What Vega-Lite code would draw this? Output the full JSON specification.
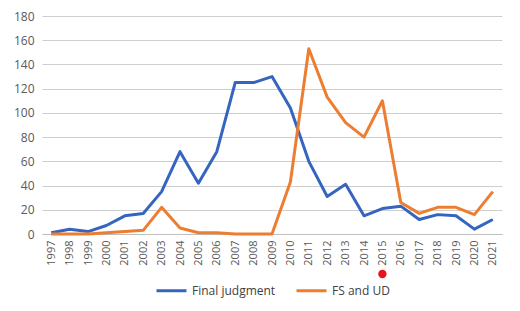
{
  "$schema": "https://vega.github.io/schema/vega-lite/v6.json",
  "width": 460,
  "height": 218,
  "autosize": {"type": "none"},
  "padding": {"left": 42, "top": 16, "right": 18, "bottom": 77},
  "background": "white",
  "config": {
    "view": {"stroke": null},
    "font": "Open Sans",
    "axis": {"labelColor": "#595959", "labelFont": "Open Sans", "labelFontSize": 11, "title": null, "labelOverlap": false},
    "legend": {"layout": {"bottom": {"anchor": "middle"}}}
  },
  "encoding": {
    "x": {
      "field": "year", "type": "ordinal",
      "scale": {"type": "point", "padding": 0.5},
      "axis": {"labelAngle": -90, "ticks": false, "domainColor": "#bfbfbf", "domainWidth": 1, "labelPadding": 6, "grid": false}
    },
    "y": {
      "field": "value", "type": "quantitative",
      "scale": {"domain": [0, 180], "nice": false},
      "axis": {"values": [0, 20, 40, 60, 80, 100, 120, 140, 160, 180], "domain": false, "ticks": false, "grid": true, "gridColor": "#cfcfcf", "gridWidth": 1, "labelPadding": 8, "labelFontSize": 12}
    }
  },
  "layer": [
    {
      "data": {
        "values": [
          {"year": "1997", "series": "Final judgment", "value": 1},
          {"year": "1998", "series": "Final judgment", "value": 4},
          {"year": "1999", "series": "Final judgment", "value": 2},
          {"year": "2000", "series": "Final judgment", "value": 7},
          {"year": "2001", "series": "Final judgment", "value": 15},
          {"year": "2002", "series": "Final judgment", "value": 17},
          {"year": "2003", "series": "Final judgment", "value": 35},
          {"year": "2004", "series": "Final judgment", "value": 68},
          {"year": "2005", "series": "Final judgment", "value": 42},
          {"year": "2006", "series": "Final judgment", "value": 68},
          {"year": "2007", "series": "Final judgment", "value": 125},
          {"year": "2008", "series": "Final judgment", "value": 125},
          {"year": "2009", "series": "Final judgment", "value": 130},
          {"year": "2010", "series": "Final judgment", "value": 104},
          {"year": "2011", "series": "Final judgment", "value": 60},
          {"year": "2012", "series": "Final judgment", "value": 31},
          {"year": "2013", "series": "Final judgment", "value": 41},
          {"year": "2014", "series": "Final judgment", "value": 15},
          {"year": "2015", "series": "Final judgment", "value": 21},
          {"year": "2016", "series": "Final judgment", "value": 23},
          {"year": "2017", "series": "Final judgment", "value": 12},
          {"year": "2018", "series": "Final judgment", "value": 16},
          {"year": "2019", "series": "Final judgment", "value": 15},
          {"year": "2020", "series": "Final judgment", "value": 4},
          {"year": "2021", "series": "Final judgment", "value": 12},
          {"year": "1997", "series": "FS and UD", "value": 0},
          {"year": "1998", "series": "FS and UD", "value": 0},
          {"year": "1999", "series": "FS and UD", "value": 0},
          {"year": "2000", "series": "FS and UD", "value": 1},
          {"year": "2001", "series": "FS and UD", "value": 2},
          {"year": "2002", "series": "FS and UD", "value": 3},
          {"year": "2003", "series": "FS and UD", "value": 22},
          {"year": "2004", "series": "FS and UD", "value": 5},
          {"year": "2005", "series": "FS and UD", "value": 1},
          {"year": "2006", "series": "FS and UD", "value": 1},
          {"year": "2007", "series": "FS and UD", "value": 0},
          {"year": "2008", "series": "FS and UD", "value": 0},
          {"year": "2009", "series": "FS and UD", "value": 0},
          {"year": "2010", "series": "FS and UD", "value": 43},
          {"year": "2011", "series": "FS and UD", "value": 153},
          {"year": "2012", "series": "FS and UD", "value": 113},
          {"year": "2013", "series": "FS and UD", "value": 92},
          {"year": "2014", "series": "FS and UD", "value": 80},
          {"year": "2015", "series": "FS and UD", "value": 110},
          {"year": "2016", "series": "FS and UD", "value": 26},
          {"year": "2017", "series": "FS and UD", "value": 17},
          {"year": "2018", "series": "FS and UD", "value": 22},
          {"year": "2019", "series": "FS and UD", "value": 22},
          {"year": "2020", "series": "FS and UD", "value": 16},
          {"year": "2021", "series": "FS and UD", "value": 35}
        ]
      },
      "mark": {"type": "line", "strokeWidth": 3, "strokeJoin": "round"},
      "encoding": {
        "color": {
          "field": "series", "type": "nominal",
          "scale": {"domain": ["Final judgment", "FS and UD"], "range": ["#3565BE", "#ED7D31"]},
          "legend": {
            "orient": "bottom", "direction": "horizontal", "title": null,
            "symbolType": "stroke", "symbolStrokeWidth": 3, "symbolSize": 900,
            "labelFontSize": 12, "labelColor": "#404040", "labelFont": "Open Sans",
            "columnPadding": 14, "offset": 8
          }
        }
      }
    },
    {
      "data": {"values": [{"year": "2015", "value": -33}]},
      "mark": {"type": "point", "filled": true, "color": "#E8141B", "size": 70, "opacity": 1, "clip": false}
    }
  ]
}
